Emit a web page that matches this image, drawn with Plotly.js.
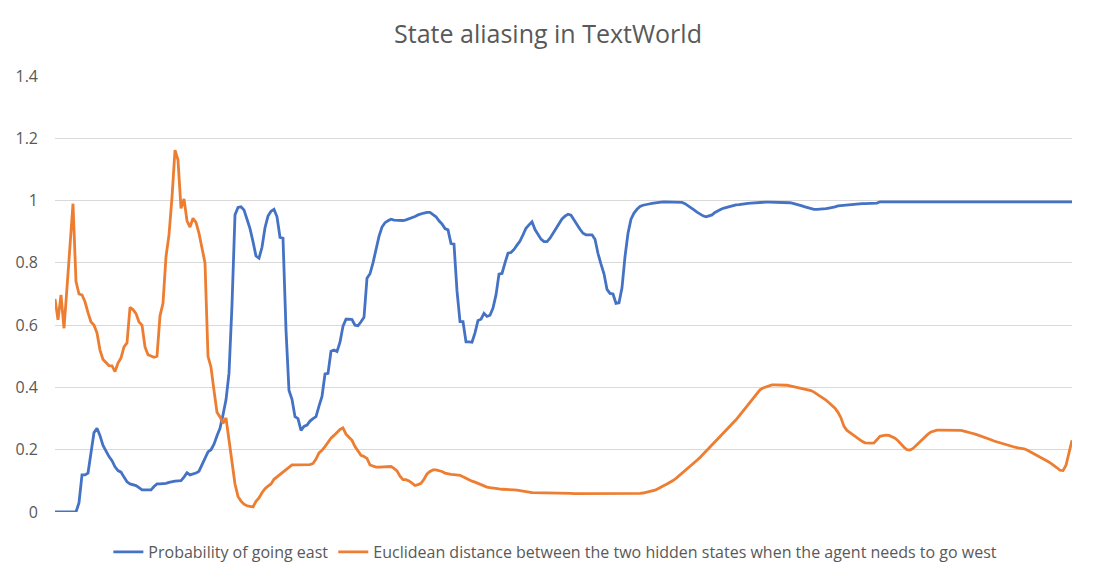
<!DOCTYPE html>
<html>
<head>
<meta charset="utf-8">
<script src="https://cdn.plot.ly/plotly-3.0.1.min.js"></script>
<style>
  html, body { margin: 0; padding: 0; background: #ffffff; }
  #chart { width: 1096px; height: 583px; }
</style>
</head>
<body>
<div id="chart"></div>
<script>
// Chart title and series names
const chartTitle = "State aliasing in TextWorld";
const seriesNames = [
  "Probability of going east",
  "Euclidean distance between the two hidden states when the agent needs to go west"
];
const yTickValues = [0, 0.2, 0.4, 0.6, 0.8, 1, 1.2, 1.4];

// Probability of going east (one value per step)
const probEast = [
  0, 0, 0, 0, 0, 0, 0, 0, 0.03, 0.119,
  0.119, 0.125, 0.19, 0.255, 0.269, 0.245, 0.214, 0.195, 0.178, 0.165,
  0.145, 0.133, 0.128, 0.112, 0.097, 0.09, 0.087, 0.085, 0.078, 0.071,
  0.071, 0.071, 0.071, 0.082, 0.09, 0.09, 0.09, 0.092, 0.095, 0.098,
  0.099, 0.10, 0.101, 0.112, 0.126, 0.119, 0.121, 0.125, 0.131, 0.15,
  0.17, 0.193, 0.2, 0.218, 0.245, 0.269, 0.312, 0.36, 0.445, 0.665,
  0.954, 0.978, 0.98, 0.97, 0.94, 0.91, 0.868, 0.822, 0.815, 0.85,
  0.913, 0.95, 0.966, 0.972, 0.948, 0.882, 0.879, 0.584, 0.39, 0.362,
  0.306, 0.30, 0.262, 0.275, 0.279, 0.292, 0.30, 0.306, 0.34, 0.371,
  0.443, 0.445, 0.516, 0.52, 0.515, 0.545, 0.597, 0.619, 0.619, 0.618,
  0.60, 0.598, 0.611, 0.625, 0.751, 0.765, 0.80, 0.848, 0.885, 0.915,
  0.929, 0.935, 0.94, 0.937, 0.936, 0.936, 0.936, 0.938, 0.941, 0.944,
  0.949, 0.954, 0.958, 0.96, 0.962, 0.962, 0.955, 0.948, 0.935, 0.925,
  0.91, 0.906, 0.862, 0.86, 0.71, 0.611, 0.611, 0.546, 0.546, 0.545,
  0.575, 0.615, 0.619, 0.638, 0.628, 0.632, 0.655, 0.697, 0.764, 0.766,
  0.80, 0.831, 0.833, 0.843, 0.857, 0.87, 0.89, 0.911, 0.922, 0.932,
  0.907, 0.89, 0.876, 0.868, 0.868, 0.879, 0.895, 0.91, 0.928, 0.941,
  0.95, 0.956, 0.953, 0.937, 0.922, 0.908, 0.895, 0.89, 0.89, 0.89,
  0.876, 0.83, 0.796, 0.765, 0.715, 0.702, 0.70, 0.67, 0.672, 0.72,
  0.82, 0.895, 0.94, 0.96, 0.972, 0.981, 0.985, 0.988, 0.989, 0.991,
  0.993, 0.994, 0.995, 0.996, 0.996, 0.996, 0.996, 0.996, 0.995, 0.994,
  0.99, 0.984, 0.978, 0.97, 0.963, 0.956, 0.951, 0.948, 0.95, 0.954,
  0.962, 0.968, 0.972, 0.976, 0.979, 0.982, 0.984, 0.986, 0.987, 0.989,
  0.99, 0.991, 0.992, 0.993, 0.994, 0.994, 0.995, 0.995, 0.995, 0.995,
  0.995, 0.995, 0.995, 0.995, 0.994, 0.993, 0.991, 0.989, 0.986, 0.983,
  0.98, 0.977, 0.974, 0.972, 0.972, 0.972, 0.972, 0.974, 0.976, 0.977,
  0.98, 0.983, 0.984, 0.986, 0.987, 0.988, 0.989, 0.989, 0.99, 0.99,
  0.99, 0.991, 0.991, 0.992, 0.992, 0.996, 0.996, 0.996, 0.996, 0.996,
  0.996, 0.996, 0.996, 0.996, 0.996, 0.996, 0.996, 0.996, 0.996, 0.996,
  0.996, 0.996, 0.996, 0.996, 0.996, 0.996, 0.996, 0.996, 0.996, 0.996,
  0.996, 0.996, 0.996, 0.996, 0.996, 0.996, 0.996, 0.996, 0.996, 0.996,
  0.996, 0.996, 0.996, 0.996, 0.996, 0.996, 0.996, 0.996, 0.996, 0.996,
  0.996, 0.996, 0.996, 0.996, 0.996, 0.996, 0.996, 0.996, 0.996, 0.996,
  0.996, 0.996, 0.996, 0.996, 0.996, 0.996, 0.996, 0.996, 0.996, 0.996
];

// Euclidean distance between the two hidden states
const hiddenDist = [
  0.684, 0.617, 0.697, 0.59, 0.72, 0.86, 0.99, 0.74, 0.70, 0.697,
  0.675, 0.64, 0.61, 0.60, 0.575, 0.52, 0.49, 0.48, 0.47, 0.469,
  0.451, 0.478, 0.495, 0.53, 0.543, 0.657, 0.65, 0.637, 0.61, 0.60,
  0.53, 0.505, 0.50, 0.497, 0.50, 0.63, 0.67, 0.82, 0.89, 1.01,
  1.162, 1.13, 0.975, 1.005, 0.935, 0.915, 0.943, 0.93, 0.895, 0.848,
  0.80, 0.50, 0.465, 0.39, 0.32, 0.305, 0.285, 0.302, 0.23, 0.145,
  0.09, 0.05, 0.035, 0.025, 0.02, 0.018, 0.016, 0.034, 0.045, 0.062,
  0.075, 0.083, 0.09, 0.105, 0.113, 0.12, 0.128, 0.135, 0.143, 0.151,
  0.151, 0.151, 0.151, 0.151, 0.151, 0.152, 0.156, 0.17, 0.19, 0.198,
  0.21, 0.225, 0.237, 0.246, 0.257, 0.265, 0.27, 0.25, 0.24, 0.23,
  0.21, 0.195, 0.182, 0.178, 0.172, 0.151, 0.147, 0.144, 0.144, 0.145,
  0.146, 0.147, 0.146, 0.14, 0.132, 0.115, 0.104, 0.104, 0.10, 0.093,
  0.085, 0.088, 0.092, 0.105, 0.122, 0.13, 0.135, 0.135, 0.133, 0.13,
  0.125, 0.122, 0.121, 0.12, 0.119, 0.118, 0.113, 0.108, 0.103, 0.099,
  0.096, 0.092, 0.088, 0.083, 0.08, 0.078, 0.076, 0.075, 0.074, 0.073,
  0.073, 0.072, 0.071, 0.071, 0.07, 0.069, 0.067, 0.066, 0.064, 0.062,
  0.062, 0.061, 0.061, 0.061, 0.06, 0.06, 0.06, 0.06, 0.06, 0.06,
  0.06, 0.06, 0.06, 0.059, 0.059, 0.059, 0.058, 0.058, 0.058, 0.058,
  0.058, 0.058, 0.058, 0.058, 0.058, 0.058, 0.058, 0.058, 0.058, 0.058,
  0.058, 0.058, 0.058, 0.059, 0.059, 0.06, 0.061, 0.063, 0.065, 0.067,
  0.07, 0.075, 0.079, 0.085, 0.09, 0.095, 0.101, 0.108, 0.116, 0.123,
  0.131, 0.139, 0.147, 0.155, 0.166, 0.175, 0.185, 0.195, 0.206, 0.216,
  0.226, 0.236, 0.246, 0.255, 0.264, 0.274, 0.284, 0.296, 0.308, 0.32,
  0.333, 0.347, 0.359, 0.371, 0.381, 0.392, 0.398, 0.401, 0.405, 0.408,
  0.408, 0.408, 0.408, 0.407, 0.407, 0.405, 0.403, 0.401, 0.398, 0.396,
  0.394, 0.392, 0.39, 0.385, 0.379, 0.372, 0.366, 0.359, 0.351, 0.343,
  0.333, 0.32, 0.302, 0.275, 0.262, 0.255, 0.248, 0.24, 0.232, 0.227,
  0.222, 0.221, 0.221, 0.222, 0.232, 0.243, 0.245, 0.247, 0.246, 0.241,
  0.237, 0.229, 0.218, 0.208, 0.20, 0.199, 0.204, 0.213, 0.225, 0.234,
  0.243, 0.25, 0.257, 0.261, 0.263, 0.263, 0.263, 0.263, 0.263, 0.263,
  0.263, 0.263, 0.262, 0.26, 0.258, 0.255, 0.252, 0.249, 0.246, 0.243,
  0.24, 0.236, 0.232, 0.228, 0.225, 0.222, 0.218, 0.216, 0.213, 0.21,
  0.208, 0.206, 0.205, 0.203, 0.199, 0.194, 0.189, 0.184, 0.179, 0.174,
  0.168, 0.162, 0.156, 0.15, 0.142, 0.134, 0.133, 0.15, 0.19, 0.23
];

// Step index (category axis without labels)
const steps = probEast.map((_, i) => i);

const textColor = "#595959";
const fontFamily = "'Open Sans', 'Noto Sans', sans-serif";

const traces = [
  {
    x: steps, y: probEast, name: seriesNames[0],
    type: "scatter", mode: "lines",
    line: { color: "#4472C4", width: 2.8 },
    hoverinfo: "skip"
  },
  {
    x: steps, y: hiddenDist, name: seriesNames[1],
    type: "scatter", mode: "lines",
    line: { color: "#ED7D31", width: 2.8 },
    hoverinfo: "skip"
  }
];

const layout = {
  width: 1096, height: 583,
  paper_bgcolor: "#ffffff", plot_bgcolor: "#ffffff",
  margin: { l: 55, r: 24, t: 76, b: 71 },
  font: { family: fontFamily, color: textColor, size: 16 },
  title: {
    text: chartTitle,
    font: { family: fontFamily, size: 25, color: textColor },
    x: 0.5, xanchor: "center",
    y: 1 - 34 / 583, yanchor: "middle"
  },
  xaxis: {
    range: [0, steps.length - 1],
    showgrid: false, zeroline: false, showline: false,
    showticklabels: false, ticks: ""
  },
  yaxis: {
    range: [0, 1.4],
    tickvals: yTickValues,
    ticktext: yTickValues.map(v => String(v)),
    showgrid: true, gridcolor: "#D9D9D9", gridwidth: 1,
    zeroline: false, showline: false, ticks: "",
    ticklabelstandoff: 16,
    tickfont: { family: fontFamily, size: 16, color: textColor }
  },
  showlegend: true,
  legend: {
    orientation: "h",
    x: 0.492, xanchor: "center",
    y: (512 - 552) / 436, yanchor: "middle",
    font: { family: fontFamily, size: 16, color: textColor },
    itemwidth: 30,
    bgcolor: "rgba(0,0,0,0)"
  }
};

Plotly.newPlot("chart", traces, layout, { displayModeBar: false, staticPlot: true });
</script>
</body>
</html>
